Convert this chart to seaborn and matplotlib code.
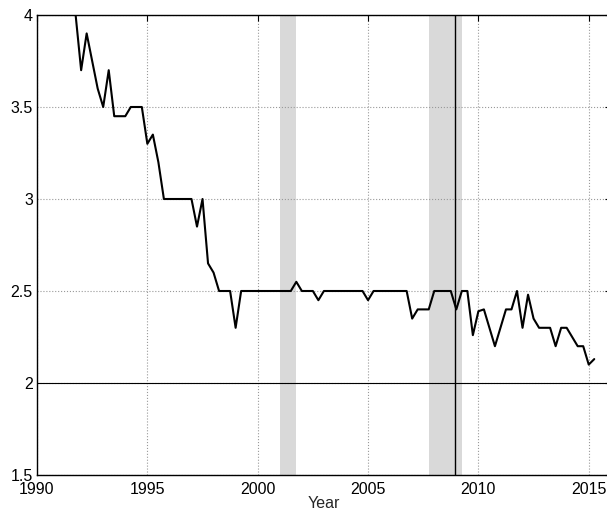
import numpy as np
import pandas as pd
import matplotlib
matplotlib.use("Agg")
import matplotlib.pyplot as plt
import seaborn as sns

# quarterly values, first quarter is 1991 Q4
start_year = 1991.75
values = [
    4.0,
    3.7, 3.9, 3.75, 3.6,
    3.5, 3.7, 3.45, 3.45,
    3.45, 3.5, 3.5, 3.5,
    3.3, 3.35, 3.2, 3.0,
    3.0, 3.0, 3.0, 3.0,
    3.0, 2.85, 3.0, 2.65,
    2.6, 2.5, 2.5, 2.5,
    2.3, 2.5, 2.5, 2.5,
    2.5, 2.5, 2.5, 2.5,
    2.5, 2.5, 2.5, 2.55,
    2.5, 2.5, 2.5, 2.45,
    2.5, 2.5, 2.5, 2.5,
    2.5, 2.5, 2.5, 2.5,
    2.45, 2.5, 2.5, 2.5,
    2.5, 2.5, 2.5, 2.5,
    2.35, 2.4, 2.4, 2.4,
    2.5, 2.5, 2.5, 2.5,
    2.4, 2.5, 2.5, 2.26,
    2.39, 2.4, 2.3, 2.2,
    2.3, 2.4, 2.4, 2.5,
    2.3, 2.48, 2.35, 2.3,
    2.3, 2.3, 2.2, 2.3,
    2.3, 2.25, 2.2, 2.2,
    2.1, 2.13,
]
years = start_year + 0.25 * np.arange(len(values))

recessions = [(2001.0, 2001.75), (2007.75, 2009.25)]
vline_x = 2008.96
target = 2.0

x_ticks = [1990, 1995, 2000, 2005, 2010, 2015]
y_ticks = [1.5, 2, 2.5, 3, 3.5, 4]

df = pd.DataFrame({"Year": years, "value": values})

sns.set_style("white")
plt.rcParams["font.family"] = ["Liberation Sans", "DejaVu Sans"]

fig = plt.figure(figsize=(6.07, 5.16), dpi=100)
ax = fig.add_axes([37 / 607, 41 / 516, 573.8 / 607, 460 / 516])

for a, b in recessions:
    ax.axvspan(a, b, color="#d9d9d9", lw=0, zorder=0)

sns.lineplot(data=df, x="Year", y="value", color="black", linewidth=1.5, ax=ax, zorder=3)
ax.axhline(target, color="black", lw=0.8, zorder=2)
ax.axvline(vline_x, color="black", lw=1.0, zorder=2)

ax.set_xlim(1990, 2016)
ax.set_ylim(1.5, 4)
ax.set_xticks(x_ticks)
ax.set_yticks(y_ticks)
ax.set_yticklabels(["%g" % t for t in y_ticks])
ax.grid(True, linestyle=":", color="#999999", lw=0.8)
ax.set_axisbelow(True)

ax.tick_params(direction="in", top=True, right=True, length=4, labelsize=11.5, colors="black")
ax.tick_params(axis="x", pad=5)
ax.tick_params(axis="y", pad=3)
for s in ax.spines.values():
    s.set_color("black")
    s.set_linewidth(1.0)

ax.set_xlabel("Year", fontsize=11.5, labelpad=-1)
ax.set_ylabel("")

fig.savefig("out.png", dpi=100)
